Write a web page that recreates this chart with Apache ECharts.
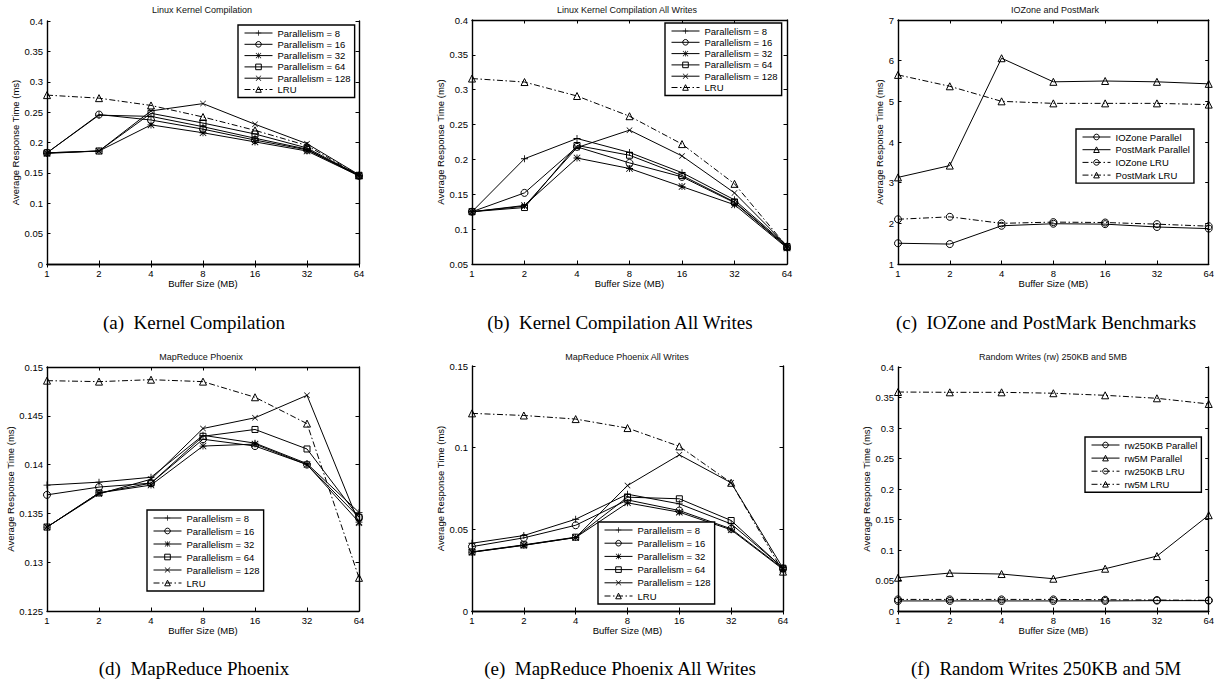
<!DOCTYPE html>
<html><head><meta charset="utf-8">
<script src="https://cdn.jsdelivr.net/npm/echarts@6/dist/echarts.min.js"></script>
<style>html,body{margin:0;padding:0;background:#fff}#c{width:1217px;height:681px}</style>
</head><body><div id="c"></div><script>
// ---------- data ----------
const bufferSizes = ['1', '2', '4', '8', '16', '32', '64'];
const parNames = ['Parallelism = 8', 'Parallelism = 16', 'Parallelism = 32', 'Parallelism = 64', 'Parallelism = 128', 'LRU'];
const ioNames = ['IOZone Parallel', 'PostMark Parallel', 'IOZone LRU', 'PostMark LRU'];
const rwNames = ['rw250KB Parallel', 'rw5M Parallel', 'rw250KB LRU', 'rw5M LRU'];

// (a) Linux Kernel Compilation
const kcP8   = [0.183, 0.245, 0.243, 0.226, 0.207, 0.189, 0.146];
const kcP16  = [0.183, 0.246, 0.237, 0.222, 0.204, 0.188, 0.145];
const kcP32  = [0.182, 0.186, 0.229, 0.216, 0.201, 0.186, 0.145];
const kcP64  = [0.183, 0.186, 0.248, 0.232, 0.214, 0.191, 0.146];
const kcP128 = [0.183, 0.186, 0.252, 0.264, 0.230, 0.198, 0.147];
const kcLRU  = [0.278, 0.273, 0.261, 0.242, 0.220, 0.195, 0.146];
// (b) Linux Kernel Compilation All Writes
const kcwP8   = [0.125, 0.201, 0.230, 0.210, 0.181, 0.142, 0.076];
const kcwP16  = [0.125, 0.152, 0.218, 0.195, 0.175, 0.138, 0.074];
const kcwP32  = [0.125, 0.134, 0.202, 0.187, 0.161, 0.135, 0.073];
const kcwP64  = [0.125, 0.131, 0.220, 0.206, 0.177, 0.139, 0.075];
const kcwP128 = [0.125, 0.133, 0.217, 0.242, 0.205, 0.152, 0.076];
const kcwLRU  = [0.316, 0.311, 0.291, 0.262, 0.222, 0.165, 0.075];
// (c) IOZone and PostMark
const ioPar = [1.51, 1.49, 1.94, 1.99, 1.98, 1.91, 1.87];
const pmPar = [3.13, 3.42, 6.06, 5.48, 5.50, 5.48, 5.43];
const ioLRU = [2.10, 2.16, 2.00, 2.03, 2.02, 1.98, 1.93];
const pmLRU = [5.65, 5.37, 5.00, 4.95, 4.95, 4.95, 4.92];
// (d) MapReduce Phoenix
const mrP8   = [0.1379, 0.1382, 0.1387, 0.1430, 0.1422, 0.1401, 0.1351];
const mrP16  = [0.1369, 0.1377, 0.1381, 0.1426, 0.1419, 0.1400, 0.1346];
const mrP32  = [0.1336, 0.1371, 0.1379, 0.1419, 0.1421, 0.1400, 0.1341];
const mrP64  = [0.1336, 0.1371, 0.1381, 0.1429, 0.1436, 0.1416, 0.1346];
const mrP128 = [0.1336, 0.1370, 0.1385, 0.1437, 0.1448, 0.1471, 0.1340];
const mrLRU  = [0.1486, 0.1485, 0.1487, 0.1485, 0.1469, 0.1442, 0.1284];
// (e) MapReduce Phoenix All Writes
const mrwP8   = [0.0415, 0.0462, 0.0562, 0.0715, 0.0656, 0.0533, 0.0265];
const mrwP16  = [0.0394, 0.0448, 0.0525, 0.0680, 0.0615, 0.0503, 0.0260];
const mrwP32  = [0.0360, 0.0403, 0.0450, 0.0662, 0.0605, 0.0497, 0.0255];
const mrwP64  = [0.0362, 0.0405, 0.0452, 0.0697, 0.0687, 0.0554, 0.0262];
const mrwP128 = [0.0360, 0.0402, 0.0450, 0.0768, 0.0956, 0.0785, 0.0262];
const mrwLRU  = [0.1210, 0.1197, 0.1175, 0.1120, 0.1008, 0.0785, 0.0241];
// (f) Random Writes
const rw250Par = [0.0165, 0.0165, 0.0165, 0.0165, 0.0165, 0.0170, 0.0170];
const rw5Par   = [0.0546, 0.0622, 0.0606, 0.0529, 0.0693, 0.0900, 0.1570];
const rw250LRU = [0.0190, 0.0190, 0.0190, 0.0190, 0.0185, 0.0180, 0.0175];
const rw5LRU   = [0.3590, 0.3585, 0.3585, 0.3570, 0.3536, 0.3487, 0.3394];

// ---------- styles ----------
const SYM = {
  plus: 'path://M4.4,0H5.6V4.4H10V5.6H5.6V10H4.4V5.6H0V4.4H4.4Z',
  cross: 'path://M0.8,0L5,4.2L9.2,0L10,0.8L5.8,5L10,9.2L9.2,10L5,5.8L0.8,10L0,9.2L4.2,5L0,0.8Z',
  star: 'path://M4.4,0H5.6V4.4H10V5.6H5.6V10H4.4V5.6H0V4.4H4.4Z M0.8,0L5,4.2L9.2,0L10,0.8L5.8,5L10,9.2L9.2,10L5,5.8L0.8,10L0,9.2L4.2,5L0,0.8Z'
};
const DASHDOT = [6, 2.5, 1.5, 2.5];
const parStyles = [
  { symbol: SYM.plus, size: 7, hollow: false },
  { symbol: 'circle', size: 7, hollow: true },
  { symbol: SYM.star, size: 7, hollow: false },
  { symbol: 'rect', size: 6, hollow: true },
  { symbol: SYM.cross, size: 6, hollow: false },
  { symbol: 'triangle', size: 7, hollow: true, dash: true }
];
const pairStyles = [
  { symbol: 'circle', size: 7, hollow: true },
  { symbol: 'triangle', size: 7, hollow: true },
  { symbol: 'circle', size: 7, hollow: true, dash: true },
  { symbol: 'triangle', size: 7, hollow: true, dash: true }
];

const FONT = 'Liberation Sans';
const panels = [
  { title: 'Linux Kernel Compilation', caption: '(a)  Kernel Compilation',
    grid: { left: 47, top: 21, width: 312, height: 243 }, y: [0, 0.4, 0.05], yGap: 27,
    legend: { left: 238, top: 25, gap: 1.3 }, names: parNames, styles: parStyles,
    data: [kcP8, kcP16, kcP32, kcP64, kcP128, kcLRU], tx: 202, ty: 10, cx: 194, cy: 322 },
  { title: 'Linux Kernel Compilation All Writes', caption: '(b)  Kernel Compilation All Writes',
    grid: { left: 472, top: 20, width: 315, height: 244 }, y: [0.05, 0.4, 0.05], yGap: 27,
    legend: { left: 665, top: 23, gap: 1.3 }, names: parNames, styles: parStyles,
    data: [kcwP8, kcwP16, kcwP32, kcwP64, kcwP128, kcwLRU], tx: 627, ty: 10, cx: 620, cy: 322 },
  { title: 'IOZone and PostMark', caption: '(c)  IOZone and PostMark Benchmarks',
    grid: { left: 898, top: 20, width: 313, height: 244 }, y: [1, 7, 1], yGap: 13,
    legend: { left: 1076, top: 129, gap: 2.7 }, names: ioNames, styles: pairStyles,
    data: [ioPar, pmPar, ioLRU, pmLRU], tx: 1055, ty: 10, cx: 1046, cy: 322 },
  { title: 'MapReduce Phoenix', caption: '(d)  MapReduce Phoenix',
    grid: { left: 47, top: 367, width: 312, height: 244 }, y: [0.125, 0.15, 0.005], yGap: 30,
    legend: { left: 147, top: 510, gap: 3 }, names: parNames, styles: parStyles,
    data: [mrP8, mrP16, mrP32, mrP64, mrP128, mrLRU], tx: 201, ty: 357, cx: 194, cy: 668 },
  { title: 'MapReduce Phoenix All Writes', caption: '(e)  MapReduce Phoenix All Writes',
    grid: { left: 472, top: 366, width: 311, height: 245 }, y: [0, 0.15, 0.05], yGap: 25,
    legend: { left: 598, top: 522, gap: 3.2 }, names: parNames, styles: parStyles,
    data: [mrwP8, mrwP16, mrwP32, mrwP64, mrwP128, mrwLRU], tx: 627, ty: 357, cx: 620, cy: 668 },
  { title: 'Random Writes (rw) 250KB and 5MB', caption: '(f)  Random Writes 250KB and 5M',
    grid: { left: 898, top: 367, width: 311, height: 244 }, y: [0, 0.4, 0.05], yGap: 26,
    legend: { left: 1085, top: 437, gap: 3.1 }, names: rwNames, styles: pairStyles,
    data: [rw250Par, rw5Par, rw250LRU, rw5LRU], tx: 1053, ty: 357, cx: 1046, cy: 668 }
];

// ---------- build option ----------
const grids = [], xAxes = [], yAxes = [], series = [], legends = [], graphics = [];
const axisLine = { show: true, lineStyle: { color: '#000', width: 1.4 } };
const tick = { show: true, inside: true, length: 3.5, lineStyle: { color: '#000', width: 1 } };
const labelStyle = { color: '#000', fontSize: 9.5, fontFamily: FONT };

panels.forEach((p, i) => {
  grids.push(Object.assign({ containLabel: false }, p.grid));
  xAxes.push({ gridIndex: i, type: 'category', data: bufferSizes, boundaryGap: false, position: 'bottom',
    axisLine, axisTick: Object.assign({ alignWithLabel: true }, tick),
    axisLabel: Object.assign({ margin: 4 }, labelStyle),
    name: 'Buffer Size (MB)', nameLocation: 'middle', nameGap: 14, nameTextStyle: labelStyle,
    splitLine: { show: false } });
  xAxes.push({ gridIndex: i, type: 'category', data: bufferSizes, boundaryGap: false, position: 'top',
    axisLine, axisTick: Object.assign({ alignWithLabel: true }, tick), axisLabel: { show: false },
    splitLine: { show: false } });
  yAxes.push({ gridIndex: i, type: 'value', min: p.y[0], max: p.y[1], interval: p.y[2], position: 'left',
    axisLine, axisTick: tick, axisLabel: Object.assign({ margin: 4 }, labelStyle),
    name: 'Average Response Time (ms)', nameLocation: 'middle', nameGap: p.yGap, nameRotate: 90,
    nameTextStyle: labelStyle, splitLine: { show: false } });
  yAxes.push({ gridIndex: i, type: 'value', min: p.y[0], max: p.y[1], interval: p.y[2], position: 'right',
    axisLine, axisTick: tick, axisLabel: { show: false }, splitLine: { show: false } });

  p.names.forEach((name, k) => {
    const st = p.styles[k];
    series.push({
      type: 'line', name, xAxisIndex: 2 * i, yAxisIndex: 2 * i, data: p.data[k],
      symbol: st.symbol, symbolSize: st.size, showAllSymbol: true,
      lineStyle: { color: '#000', width: 1, type: st.dash ? DASHDOT : 'solid' },
      itemStyle: st.hollow ? { color: 'rgba(255,255,255,0)', borderColor: '#000', borderWidth: 1 }
                           : { color: '#000', borderWidth: 0 },
      emphasis: { disabled: true }, animation: false
    });
  });

  legends.push({
    orient: 'vertical', left: p.legend.left, top: p.legend.top, data: p.names,
    itemWidth: 28, itemHeight: 7, itemGap: p.legend.gap, padding: [3, 4, 3, 6],
    borderColor: '#000', borderWidth: 1.4, backgroundColor: '#fff',
    textStyle: { fontSize: 9.5, fontFamily: FONT, color: '#000' },
    itemStyle: { borderWidth: 'inherit' }, lineStyle: { width: 1 }, selectedMode: false
  });

  graphics.push({ type: 'text', x: p.tx, y: p.ty, silent: true,
    style: { text: p.title, textAlign: 'center', textVerticalAlign: 'middle', fontSize: 9, fontFamily: FONT, fill: '#111' } });
  graphics.push({ type: 'text', x: p.cx, y: p.cy, silent: true,
    style: { text: p.caption, textAlign: 'center', textVerticalAlign: 'middle', fontSize: 19, fontFamily: 'Liberation Serif', fill: '#000' } });
});

const chart = echarts.init(document.getElementById('c'), null, { renderer: 'svg', width: 1217, height: 681 });
chart.setOption({
  animation: false, backgroundColor: '#fff',
  grid: grids, xAxis: xAxes, yAxis: yAxes, series, legend: legends, graphic: graphics, tooltip: { show: false }
});
</script></body></html>
